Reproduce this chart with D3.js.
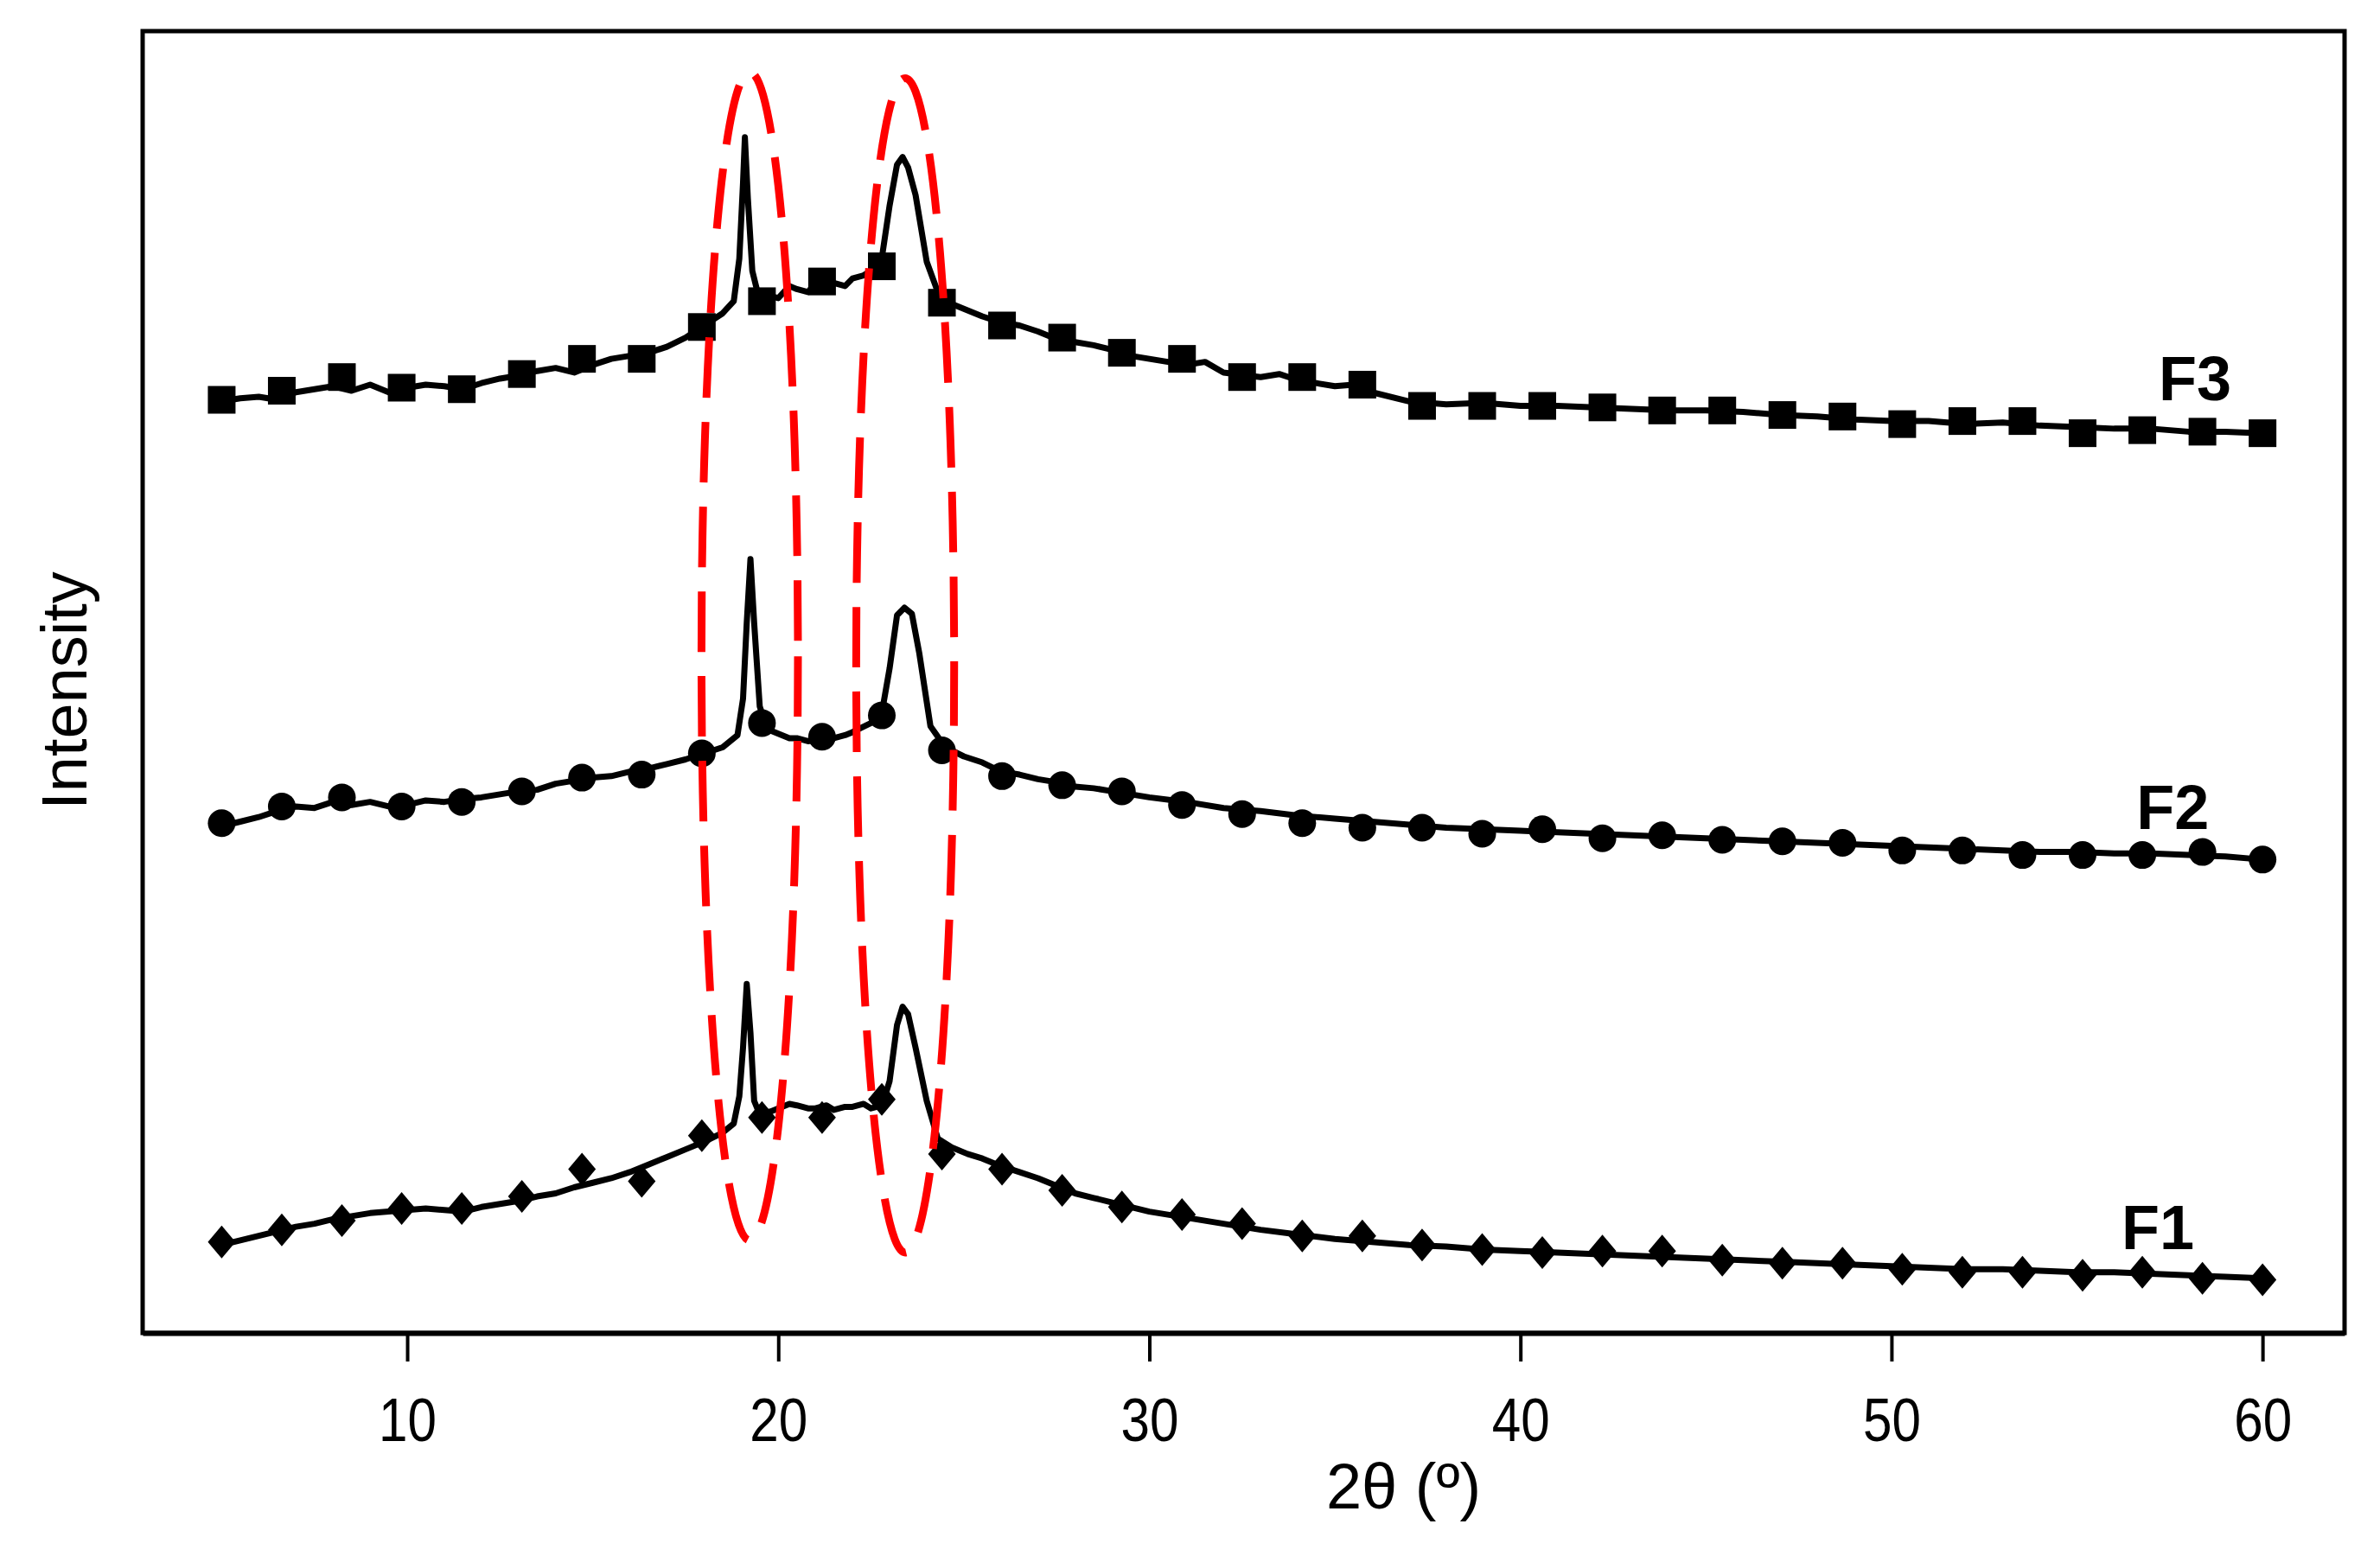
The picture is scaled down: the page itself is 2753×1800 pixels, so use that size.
<!DOCTYPE html>
<html>
<head>
<meta charset="utf-8">
<script src="https://cdn.jsdelivr.net/npm/d3@7"></script>
<style>
  body { margin: 0; background: #fff; }
  text { font-family: "Liberation Sans", Arial, Helvetica, sans-serif; fill: #000; }
</style>
</head>
<body>
<svg id="chart"></svg>
<script>
// x ticks (2θ, degrees)
const xTicks = [10, 20, 30, 40, 50, 60];

// symbol positions shared by the three patterns
const markerX = [5.00, 6.62, 8.24, 9.85, 11.47, 13.09, 14.71, 16.32, 17.94, 19.56, 21.18, 22.79,
  24.41, 26.03, 27.65, 29.26, 30.88, 32.50, 34.12, 35.74, 37.35, 38.97, 40.59, 42.21, 43.82,
  45.44, 47.06, 48.68, 50.29, 51.91, 53.53, 55.15, 56.76, 58.38, 60.00];

// stacked patterns, intensity in arbitrary units (offset already applied)
const f3Line = [[5,614],[5.5,616],[6,617],[6.5,615],[7,620],[7.5,622],[8,624],[8.5,621],[9,625],[9.5,620],
  [10,623],[10.5,625],[11,624],[11.5,622],[12,626],[12.5,629],[13,631],[13.5,634],[14,636],[14.5,633],
  [15,638],[15.5,642],[16,644],[16.5,646],[17,650],[17.5,656],[18,664],[18.5,672],[18.8,680],[18.95,708],
  [19.05,758],[19.1,788],[19.18,748],[19.3,700],[19.45,685],[19.7,684],[20,682],[20.3,690],[20.5,688],
  [20.8,686],[21,692],[21.3,688],[21.5,692],[21.8,690],[22,695],[22.3,697],[22.5,700],[22.8,710],
  [23.0,743],[23.2,770],[23.35,775],[23.5,768],[23.7,750],[24.0,706],[24.3,686],[24.7,678],[25.1,674],
  [25.5,670],[26,666],[26.5,664],[27,660],[27.5,655],[28,653],[28.5,651],[29,648],[29.5,644],[30,642],
  [31,638],[31.5,640],[32,633],[33,630],[33.5,632],[34,628],[35,624],[35.5,625],[36,620],[37,614],
  [38,612],[39,613],[40,611],[41,611],[42,610],[43,609],[44,608],[45,608],[46,607],[47,605],[48,604],
  [49,602],[50,601],[51,601],[52,599],[53,600],[54,598],[55,597],[56,596],[57,596],[58,594],[59,594],[60,593]];
const f3Marks = [615, 621, 630, 623, 622, 632, 642, 642, 663, 680, 693, 703, 679, 664, 656, 646, 642,
  630, 630, 625, 611, 611, 611, 610, 608, 608, 605, 604, 599, 601, 601, 593, 595, 594, 593];

const f2Line = [[5,334],[5.5,337],[6,340],[6.5,344],[7,347],[7.5,346],[8,350],[8.5,348],[9,350],[9.5,347],
  [10,348],[10.5,351],[11,350],[11.5,352],[12,353],[12.5,355],[13,357],[13.5,358],[14,362],[14.5,364],
  [15,366],[15.5,367],[16,370],[16.5,372],[17,375],[17.5,378],[18,382],[18.5,386],[18.9,394],[19.05,418],
  [19.15,468],[19.25,510],[19.35,468],[19.5,413],[19.7,398],[20,395],[20.3,392],[20.5,392],[20.8,390],
  [21,391],[21.3,389],[21.5,392],[21.8,394],[22,396],[22.5,402],[22.8,410],[23.0,438],[23.2,473],
  [23.4,478],[23.6,474],[23.8,448],[24.1,400],[24.5,386],[25,380],[25.5,376],[26,370],[26.5,368],
  [27,365],[27.5,363],[28,360],[28.5,359],[29,357],[29.5,355],[30,353],[31,350],[32,346],[33,344],
  [34,341],[35,339],[36,337],[37,335],[38,333],[39,332],[40,331],[41,330],[42,329],[43,328],[44,327],
  [45,326],[46,325],[47,324],[48,323],[49,322],[50,321],[51,320],[52,319],[53,318],[54,317],[55,317],
  [56,316],[57,316],[58,315],[59,314],[60,312]];
const f2Marks = [336, 347, 353, 347, 350, 357, 366, 368, 382, 402, 393, 407, 384, 367, 361, 357, 348,
  342, 336, 333, 333, 329, 332, 326, 328, 325, 324, 323, 318, 318, 315, 315, 315, 317, 312];

const f1Line = [[5,58],[5.5,61],[6,64],[6.5,67],[7,70],[7.5,72],[8,75],[8.5,77],[9,79],[9.5,80],[10,81],
  [10.5,82],[11,81],[11.5,80],[12,83],[12.5,85],[13,87],[13.5,90],[14,92],[14.5,96],[15,99],[15.5,102],
  [16,106],[16.5,111],[17,116],[17.5,121],[18,126],[18.5,132],[18.8,138],[18.95,156],[19.05,188],
  [19.15,230],[19.25,198],[19.35,153],[19.5,144],[19.8,146],[20,148],[20.3,151],[20.5,150],[20.8,148],
  [21,148],[21.3,150],[21.5,147],[21.8,149],[22,149],[22.3,151],[22.5,148],[22.8,150],[23.0,166],
  [23.2,203],[23.35,215],[23.5,210],[23.7,188],[24.0,153],[24.3,128],[24.7,122],[25.1,118],[25.5,115],
  [26,110],[26.5,106],[27,102],[27.5,97],[28,92],[28.5,89],[29,86],[29.5,83],[30,80],[31,76],[32,72],
  [33,68],[34,65],[35,62],[36,60],[37,58],[38,57],[39,55],[40,54],[41,53],[42,52],[43,51],[44,50],
  [45,49],[46,48],[47,47],[48,46],[49,45],[50,44],[51,43],[52,42],[53,42],[54,41],[55,40],[56,40],
  [57,39],[58,38],[59,37],[60,36]];
const f1Marks = [60, 68, 74, 82, 82, 90, 108, 100, 130, 142, 142, 154, 118, 108, 94, 83, 78, 72, 64,
  64, 58, 55, 53, 54, 54, 48, 46, 46, 42, 40, 40, 38, 40, 36, 35];

// sample labels: [name, 2θ, intensity at baseline]
const seriesLabels = [["F3", 58.18, 615], ["F2", 57.58, 332], ["F1", 57.18, 55]];

// highlighted reflections (red dashed ellipses)
const ellipseCx = [19.23, 23.42];
const ellipseCy = [446, 440];
const ellipseRx = [1.30, 1.32];
const ellipseRy = [385, 387];

const W = 2753, H = 1800;
const svg = d3.select("#chart").attr("width", W).attr("height", H);
svg.append("rect").attr("width", W).attr("height", H).attr("fill", "#fff");

const x = d3.scaleLinear([2.87, 62.21], [165, 2712]);
const y = d3.scaleLinear([0, 858], [1542, 36]);

// frame
svg.append("rect")
  .attr("x", x.range()[0]).attr("y", y.range()[1])
  .attr("width", x.range()[1] - x.range()[0])
  .attr("height", y.range()[0] - y.range()[1])
  .attr("fill", "none").attr("stroke", "#000").attr("stroke-width", 5);

// bottom axis
const xAxis = d3.axisBottom(x).tickValues(xTicks).tickSize(33).tickSizeOuter(0).tickPadding(42);
const gx = svg.append("g").attr("transform", `translate(0,${y.range()[0]})`).call(xAxis);
gx.select(".domain").attr("stroke", "#000").attr("stroke-width", 6);
gx.selectAll(".tick line").attr("stroke", "#000").attr("stroke-width", 4);
gx.selectAll(".tick text").attr("font-size", 70).attr("fill", "#000")
  .attr("transform", "scale(0.86,1)")
  .style("font-family", "'Liberation Sans', Arial, sans-serif");

// axis titles
svg.append("text")
  .attr("x", (x.range()[0] + x.range()[1]) / 2 + 185)
  .attr("y", 1745)
  .attr("text-anchor", "middle")
  .attr("font-size", 74)
  .text("2θ (º)");

svg.append("text")
  .attr("transform", `translate(100,${(y.range()[0] + y.range()[1]) / 2 + 10}) rotate(-90)`)
  .attr("text-anchor", "middle")
  .attr("font-size", 74)
  .text("Intensity");

// patterns
const line = d3.line().x(d => x(d[0])).y(d => y(d[1]));
const series = [
  { line: f3Line, marks: f3Marks, shape: "square" },
  { line: f2Line, marks: f2Marks, shape: "circle" },
  { line: f1Line, marks: f1Marks, shape: "diamond" }
];

series.forEach(s => {
  svg.append("path")
    .datum(s.line)
    .attr("fill", "none")
    .attr("stroke", "#000")
    .attr("stroke-width", 7)
    .attr("stroke-linejoin", "round")
    .attr("d", line);

  const pts = s.marks.map((v, i) => [markerX[i], v]);
  const g = svg.append("g");
  if (s.shape === "square") {
    g.selectAll("rect").data(pts).join("rect")
      .attr("x", d => x(d[0]) - 16).attr("y", d => y(d[1]) - 16)
      .attr("width", 32).attr("height", 32).attr("fill", "#000");
  } else if (s.shape === "circle") {
    g.selectAll("circle").data(pts).join("circle")
      .attr("cx", d => x(d[0])).attr("cy", d => y(d[1])).attr("r", 16).attr("fill", "#000");
  } else {
    g.selectAll("path").data(pts).join("path")
      .attr("transform", d => `translate(${x(d[0])},${y(d[1])})`)
      .attr("d", "M0,-19L16,0L0,19L-16,0Z").attr("fill", "#000");
  }
});

// labels
svg.selectAll(".slabel").data(seriesLabels).join("text")
  .attr("class", "slabel")
  .attr("x", d => x(d[1])).attr("y", d => y(d[2]))
  .attr("text-anchor", "middle")
  .attr("font-size", 72).attr("font-weight", "bold")
  .text(d => d[0]);

// dashed ellipses
svg.selectAll(".ell").data(ellipseCx).join("ellipse")
  .attr("class", "ell")
  .attr("cx", d => x(d))
  .attr("cy", (d, i) => y(ellipseCy[i]))
  .attr("rx", (d, i) => x(d + ellipseRx[i]) - x(d))
  .attr("ry", (d, i) => y(ellipseCy[i] - ellipseRy[i]) - y(ellipseCy[i]))
  .attr("fill", "none")
  .attr("stroke", "#ff0000")
  .attr("stroke-width", 9)
  .attr("stroke-dasharray", "70,28");
</script>
</body>
</html>
